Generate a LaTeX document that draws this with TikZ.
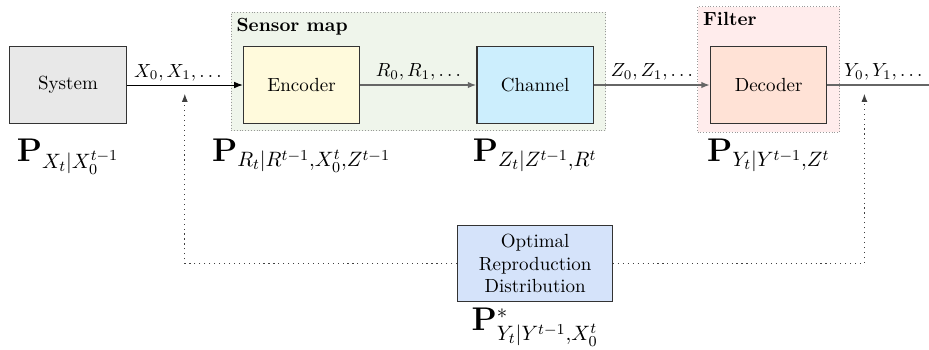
\documentclass[tikz,border=0pt]{standalone}
\usepackage{tikz}
\usetikzlibrary{arrows.meta,positioning,fit,backgrounds,calc}
\usepackage{amsmath}
\usepackage{xcolor}
\definecolor{csGray}{HTML}{E8E8E8}
\definecolor{csYellow}{HTML}{FFFADC}
\definecolor{csCyan}{HTML}{CCEEFD}
\definecolor{csSalmon}{HTML}{FFE2D6}
\definecolor{csBlue}{HTML}{D5E3FA}
\definecolor{csGreen}{HTML}{EFF5EB}
\definecolor{csPink}{HTML}{FFECEC}

\begin{document}
\begin{tikzpicture}[
  blk/.style={draw=black!80, line width=0.6pt, minimum width=2.15cm, minimum height=1.41cm, align=center},
  sig/.style={-{Latex[length=1.6mm,width=1.2mm]}, line width=0.5pt},
  sigg/.style={-{Latex[length=1.6mm,width=1.2mm]}, line width=0.9pt, black!60},
  fb/.style={-{Latex[length=1.5mm,width=1.1mm]}, dotted, line width=0.6pt, black!75},
  lab/.style={above, inner sep=2pt, text=black},
  kern/.style={font=\fontsize{16}{19}\selectfont},
  grp/.style={draw=black!40, densely dotted, line width=0.5pt},
  grptitle/.style={font=\bfseries, anchor=north west, inner sep=3pt}]
\useasboundingbox (-1.258,-4.884) rectangle (15.929,1.573);
% blocks
\node[blk, fill=csGray] (sys) {System};
\node[blk, fill=csYellow, right=2.15cm of sys] (enc) {Encoder};
\node[blk, fill=csCyan, right=2.15cm of enc] (chan) {Channel};
\node[blk, fill=csSalmon, right=2.15cm of chan] (dec) {Decoder};
\node[blk, fill=csBlue, minimum width=2.86cm, below=1.87cm of chan] (ord) {Optimal\\Reproduction\\Distribution};
% groups
\begin{scope}[on background layer]
\node[grp, fill=csGreen, fit={(enc) (chan) ([yshift=0.5cm]enc.north)}, inner xsep=0.22cm, inner ysep=0.13cm] (smap) {};
\node[grp, fill=csPink, fit={(dec) ([yshift=0.57cm]dec.north)}, inner xsep=0.23cm, inner ysep=0.16cm] (filt) {};
\end{scope}
\node[grptitle] (smaptitle) at (smap.north west) {Sensor map};
\node[grptitle] (filttitle) at (filt.north west) {Filter};
% signals
\coordinate (out) at (15.929,0);
\draw[sig] (sys) -- node[lab, pos=0.44] {$X_0, X_1, \ldots$} (enc);
\draw[sigg] (enc) -- node[lab] {$R_0, R_1, \ldots$} (chan);
\draw[sigg] (chan) -- node[lab] {$Z_0, Z_1, \ldots$} (dec);
\draw[sigg, -] (dec) -- node[lab, pos=0.55] {$Y_0, Y_1, \ldots$} (out);
% kernels
\node[kern, below=0.16cm of sys] (psys) {$\mathbf{P}_{X_t|X_0^{t-1}}$};
\node[kern, below=0.16cm of enc] (penc) {$\mathbf{P}_{R_t|R^{t-1},X_0^t,Z^{t-1}}$};
\node[kern, below=0.16cm of chan] (pchan) {$\mathbf{P}_{Z_t|Z^{t-1},R^t}$};
\node[kern, below=0.16cm of dec] (pdec) {$\mathbf{P}_{Y_t|Y^{t-1},Z^t}$};
\node[kern, inner sep=1.5pt, below=0.05cm of ord] (pord) {$\mathbf{P}^*_{Y_t|Y^{t-1},X_0^t}$};
% feedback
\coordinate (fbl) at ($(sys.east)!0.5!(enc.west)+(0,-0.16)$);
\coordinate (fbr) at ($(dec.east)+(0.685,-0.16)$);
\draw[fb] (ord.west) -| (fbl);
\draw[fb] (ord.east) -| (fbr);
\end{tikzpicture}
\end{document}
